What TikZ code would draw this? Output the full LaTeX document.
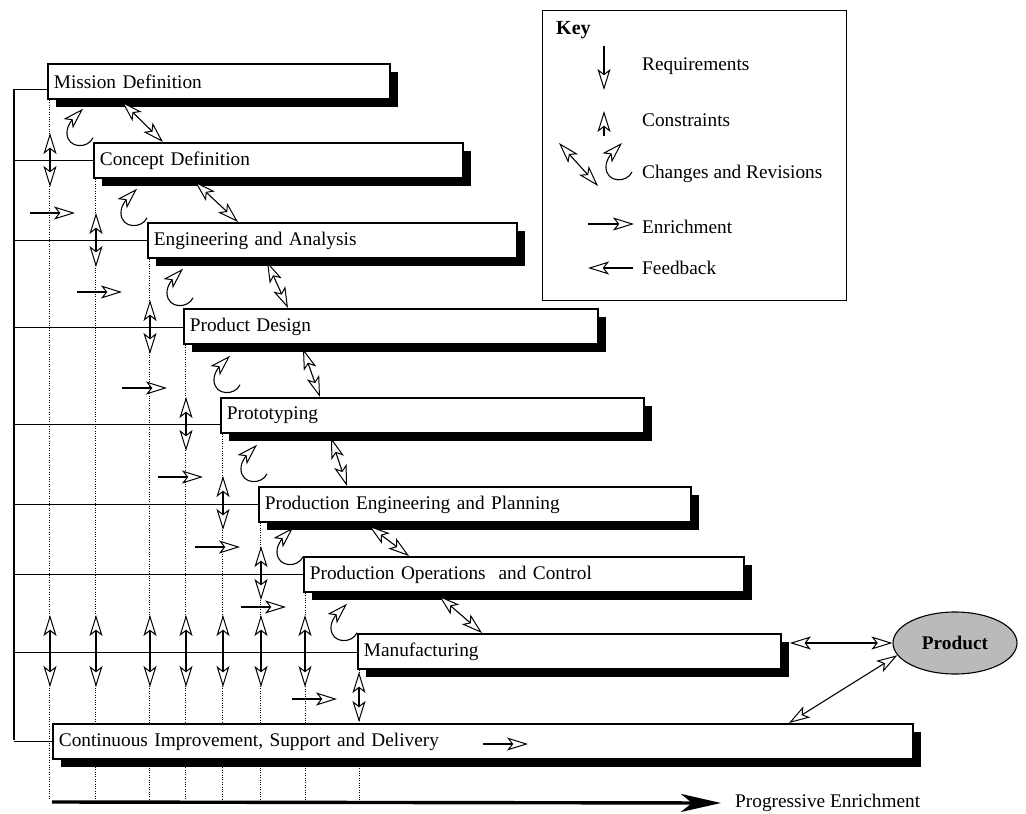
\documentclass[tikz,border=0pt]{standalone}
\usepackage{fontspec}
\setmainfont{Liberation Serif}
\usetikzlibrary{arrows.meta,shadows,shapes.geometric}
\pgfdeclarelayer{bg}
\pgfsetlayers{bg,main}
\tikzset{
  oh/.tip={Stealth[length=21pt,width=13pt,inset=5pt,fill=white,line width=1pt]},
  thin line/.style={line width=1.1pt},
  ar/.style={line width=1.1pt,-oh},
  dar/.style={line width=1.1pt,oh-oh},
  phase/.style={draw,line width=1.8pt,fill=white,anchor=north west,
    minimum height=35pt,inner xsep=6pt,inner ysep=0pt,align=left,
    drop shadow={shadow xshift=8pt,shadow yshift=-8pt,fill=black,opacity=1}},
  dotl/.style={line width=0.7pt,dash pattern=on 0.8pt off 1.6pt},
  keyl/.style={anchor=west,inner xsep=0pt},
  curl/.pic={\draw[ar] (10,29) .. controls (5,40) and (-15,40) .. (-16,25)
     .. controls (-17,16) and (-7,7) .. (0,0);}
}
\begin{document}
\begin{tikzpicture}[x=1pt,y=-1pt,font=\fontsize{19.3}{22}\selectfont]
\useasboundingbox (0,0) rectangle (1026,814);

% phase boxes
\node[phase,text width=330pt] (m1) at (47,63)  {Mission Definition};
\node[phase,text width=357pt] (m2) at (93,142) {Concept Definition};
\node[phase,text width=357pt] (m3) at (147,222) {Engineering and Analysis};
\node[phase,text width=402pt] (m4) at (183,308) {Product Design};
\node[phase,text width=411pt] (m5) at (220,397) {Prototyping};
\node[phase,text width=420pt] (m6) at (258,486) {Production Engineering and Planning};
\node[phase,text width=428pt] (m7) at (303,556) {Production Operations~ and Control};
\node[phase,text width=411pt] (m8) at (357,633) {Manufacturing};
\node[phase,text width=848pt] (m9) at (52,723)  {Continuous Improvement, Support and Delivery};

% product
\node[ellipse,draw,thin line,fill=black!27,minimum width=124pt,minimum height=62pt,
      font=\fontsize{19.3}{22}\selectfont\bfseries] (prod) at (955,643) {Product};

% spine, level lines and dotted guides
\coordinate (sp) at (14,89);
\coordinate (spb) at (14,740);
\coordinate (axL) at (52,800);
\begin{pgfonlayer}{bg}
  \draw[thin line] (sp) -- (spb);
  \draw[thin line] ([yshift=-8.5pt]m1.west) -- ([yshift=-8.5pt]m1.west -| sp);
  \draw[thin line] (m2.west) -- (m2.west -| sp);
  \draw[thin line] (m3.west) -- (m3.west -| sp);
  \draw[thin line] ([yshift=-1.5pt]m4.west) -- ([yshift=-1.5pt]m4.west -| sp);
  \draw[thin line] ([yshift=-9.5pt]m5.west) -- ([yshift=-9.5pt]m5.west -| sp);
  \draw[thin line] (m6.west) -- (m6.west -| sp);
  \draw[thin line] (m7.west) -- (m7.west -| sp);
  \draw[thin line] ([yshift=-1.5pt]m8.west) -- ([yshift=-1.5pt]m8.west -| sp);
  \draw[thin line] (m9.west) -- (m9.west -| sp);
  \foreach \m in {m1,m2,m3,m4,m5,m6,m7,m8}
    \draw[dotl] ([xshift=2.5pt]\m.south west) -- ([xshift=2.5pt]\m.south west |- axL);
\end{pgfonlayer}

% requirements / constraints between levels
\foreach \x/\y/\h in {50/160/27, 96/240/27, 150/327/27, 186/424/27, 223/503/27, 261/573/27,
    50/651/36, 96/651/36, 150/651/36, 186/651/36, 223/651/36, 261/651/36, 305/651/36,
    359/697/25}
  \draw[dar] (\x,\y-\h) -- (\x,\y+\h);

% enrichment
\foreach \x/\y in {30/213, 77/292, 122/388, 158/477, 195/547, 241/607, 292/699, 483/744}
  \draw[ar] (\x,\y) -- ++(45,0);

% changes and revisions between successive phases
\draw[dar] ([xshift=75pt,yshift=-2pt]m1.south west) -- ([xshift=70pt]m2.north west);
\draw[dar] ([xshift=102pt,yshift=-3pt]m2.south west) -- ([xshift=91pt]m3.north west);
\draw[dar] ([xshift=120pt,yshift=-3pt]m3.south west) -- ([xshift=105pt]m4.north west);
\draw[dar] ([xshift=120pt,yshift=-4pt]m4.south west) -- ([xshift=100pt]m5.north west);
\draw[dar] ([xshift=111pt,yshift=-4pt]m5.south west) -- ([xshift=89pt]m6.north west);
\draw[dar] ([xshift=111pt,yshift=-3pt]m6.south west) -- ([xshift=106pt]m7.north west);
\draw[dar] ([xshift=136pt,yshift=-3pt]m7.south west) -- ([xshift=125pt]m8.north west);

% revision loops under each phase
\pic at ([xshift=36pt,yshift=-9pt]m1.south west) {curl};
\pic at ([xshift=44pt,yshift=-10pt]m2.south west) {curl};
\pic at ([xshift=36pt,yshift=-10pt]m3.south west) {curl};
\pic at ([xshift=47pt,yshift=-11pt]m4.south west) {curl};
\pic at ([xshift=37pt,yshift=-11pt]m5.south west) {curl};
\pic at ([xshift=35pt,yshift=-5pt]m6.south west) {curl};
\pic at ([xshift=44pt,yshift=-11pt]m7.south west) {curl};

% links to the product
\draw[dar] ([xshift=8pt]m8.east |- prod.west) -- (prod.west);
\draw[dar] ([xshift=737pt]m9.north west) -- (prod.192);

% progressive enrichment axis
\coordinate (ax0) at (52,802);
\node[anchor=west,inner xsep=0pt] (pe) at (735,803) {Progressive Enrichment};
\draw[line width=3.4pt,-{Stealth[length=40pt,width=18pt,inset=11pt]}]
  (ax0) -- ([xshift=-14pt]pe.west);

% key
\node[draw,thin line,minimum width=304pt,minimum height=290pt,anchor=north west] (key) at (542,10) {};
\node[anchor=west,inner xsep=0pt,font=\fontsize{20}{24}\selectfont\bfseries] (keyt) at (556,30) {Key};
\node[keyl] (kreq) at (642,66)  {Requirements};
\node[keyl] (kcon) at (642,120) {Constraints};
\node[keyl] (kchg) at (642,174) {Changes and Revisions};
\node[keyl] (kenr) at (642,227) {Enrichment};
\node[keyl] (kfb)  at (642,268) {Feedback};
\draw[ar] ([xshift=-38pt,yshift=20pt]kreq.west) -- ([xshift=-38pt,yshift=-24pt]kreq.west);
\draw[ar] ([xshift=-38pt,yshift=-16pt]kcon.west) -- ([xshift=-38pt,yshift=9pt]kcon.west);
\draw[dar] ([xshift=-83pt,yshift=31pt]kchg.west) -- ([xshift=-44pt,yshift=-12pt]kchg.west);
\pic at ([xshift=-20pt,yshift=31pt]kchg.west) {curl};
\draw[ar] ([xshift=-54pt,yshift=3pt]kenr.west) -- ([xshift=-8pt,yshift=3pt]kenr.west);
\draw[ar] ([xshift=-9pt]kfb.west) -- ([xshift=-54pt]kfb.west);
\end{tikzpicture}
\end{document}
